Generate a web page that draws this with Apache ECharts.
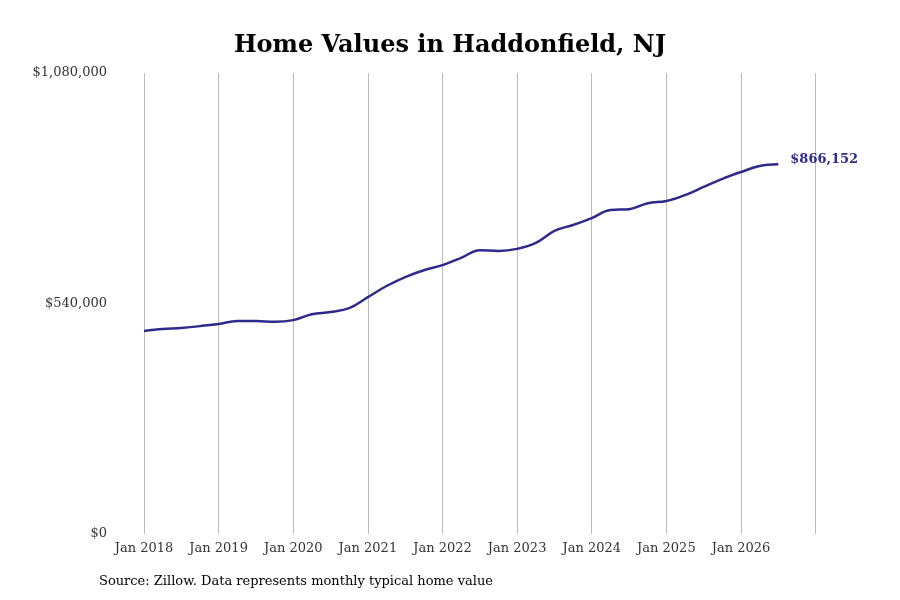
<!DOCTYPE html>
<html>
<head>
<meta charset="utf-8">
<script src="https://cdn.jsdelivr.net/npm/echarts@6/dist/echarts.min.js"></script>
<style>
  html, body { margin: 0; padding: 0; background: #fff; }
  #chart { width: 900px; height: 600px; }
</style>
</head>
<body>
<div id="chart"></div>
<script>
// Data: months since Jan 2018 (quarterly readings) and typical home value
const months = [0, 3, 6, 9, 12, 15, 18, 21, 24, 27, 30, 33, 36, 39, 42, 45, 48, 51, 54, 57,
  60, 63, 66, 69, 72, 75, 78, 81, 84, 87, 90, 93, 96, 99, 102];
const values = [475600, 480000, 482600, 487000, 492000, 499000, 499000, 497000, 501000, 515000,
  520000, 529000, 555000, 581000, 602000, 618000, 630000, 647000, 665000, 663000,
  668000, 682000, 710000, 724000, 740000, 759000, 761000, 775000, 780000, 794000,
  813000, 832000, 848000, 862000, 866152];
const yTicks = [0, 540000, 1080000];

const serif = "'DejaVu Serif', 'Liberation Serif', serif";
const lineColor = '#2e2a8a';

const chart = echarts.init(document.getElementById('chart'));

chart.setOption({
  animation: false,
  title: {
    text: 'Home Values in Haddonfield, NJ',
    left: 'center',
    top: 29,
    textStyle: { fontFamily: serif, fontWeight: 'bold', fontSize: 24, color: '#000' }
  },
  graphic: [{
    type: 'text',
    left: 99,
    top: 575,
    style: { text: 'Source: Zillow. Data represents monthly typical home value', font: "13px " + serif, fill: '#000' }
  }],
  grid: { left: 144, right: 85, top: 73, bottom: 66 },
  xAxis: {
    type: 'value',
    min: 0,
    max: 107.9,
    interval: 12,
    axisLine: { show: false },
    axisTick: { show: false },
    axisLabel: {
      fontFamily: serif, fontSize: 13, color: '#333', margin: 8,
      showMaxLabel: false,
      formatter: v => 'Jan ' + (2018 + v / 12)
    },
    splitLine: { show: true, lineStyle: { color: '#bbb', width: 1 } }
  },
  yAxis: {
    type: 'value',
    min: yTicks[0],
    max: yTicks[2],
    interval: 540000,
    axisLine: { show: false },
    axisTick: { show: false },
    splitLine: { show: false },
    axisLabel: {
      fontFamily: serif, fontSize: 13, color: '#333', margin: 37,
      formatter: v => '$' + v.toLocaleString('en-US')
    }
  },
  series: [{
    type: 'line',
    data: months.map((m, i) => [m, values[i]]),
    smooth: 0.4,
    showSymbol: false,
    lineStyle: { color: lineColor, width: 2.5 },
    endLabel: {
      show: true,
      distance: 12,
      offset: [0, -5],
      formatter: p => '$' + p.value[1].toLocaleString('en-US'),
      fontFamily: serif, fontWeight: 'bold', fontSize: 13, color: lineColor
    }
  }]
});
</script>
</body>
</html>
